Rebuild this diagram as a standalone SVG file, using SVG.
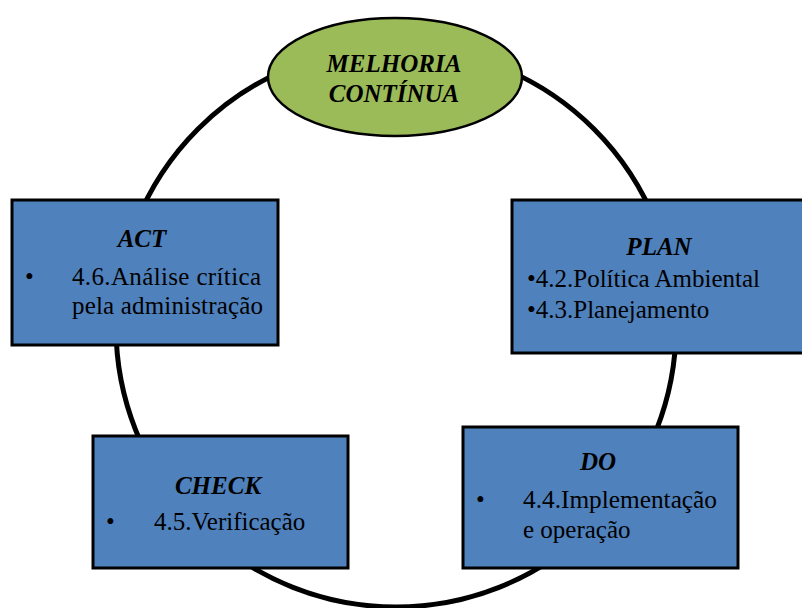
<svg xmlns="http://www.w3.org/2000/svg" width="802" height="608" viewBox="0 0 802 608">
<style>
.box{fill:#4F81BD;stroke:#000;stroke-width:3}
.t{font-family:"Liberation Serif","Times New Roman",serif;font-size:25px;fill:#000}
.h{font-weight:bold;font-style:italic;text-anchor:middle}
.conn{fill:none;stroke:#000;stroke-width:5}
</style>
<rect width="802" height="608" fill="#fff"/>
<g id="connectors">
<circle class="conn" cx="396" cy="327" r="280"/>
</g>
<g id="melhoria">
<ellipse cx="395" cy="77" rx="127" ry="59" fill="#9BBB59" stroke="#000" stroke-width="2.5"/>
<text class="t h" x="394" y="72">MELHORIA</text>
<text class="t h" x="394" y="102">CONTÍNUA</text>
</g>
<g id="act">
<rect class="box" x="12" y="200" width="266" height="145"/>
<text class="t h" x="142" y="247">ACT</text>
<text class="t" x="25" y="285">•</text>
<text class="t" x="72" y="285" textLength="189" lengthAdjust="spacing">4.6.Análise crítica</text>
<text class="t" x="72" y="314" textLength="191" lengthAdjust="spacing">pela administração</text>
</g>
<g id="plan">
<rect class="box" x="512" y="200" width="300" height="153"/>
<text class="t h" x="659" y="255">PLAN</text>
<text class="t" x="527" y="287">•4.2.Política Ambiental</text>
<text class="t" x="527" y="318">•4.3.Planejamento</text>
</g>
<g id="check">
<rect class="box" x="93" y="436" width="255" height="132"/>
<text class="t h" x="218" y="494">CHECK</text>
<text class="t" x="106" y="530">•</text>
<text class="t" x="154" y="530">4.5.Verificação</text>
</g>
<g id="do">
<rect class="box" x="463" y="427" width="275" height="141"/>
<text class="t h" x="598" y="470">DO</text>
<text class="t" x="476" y="508">•</text>
<text class="t" x="523" y="508" textLength="194" lengthAdjust="spacingAndGlyphs">4.4.Implementação</text>
<text class="t" x="523" y="538">e operação</text>
</g>
</svg>
